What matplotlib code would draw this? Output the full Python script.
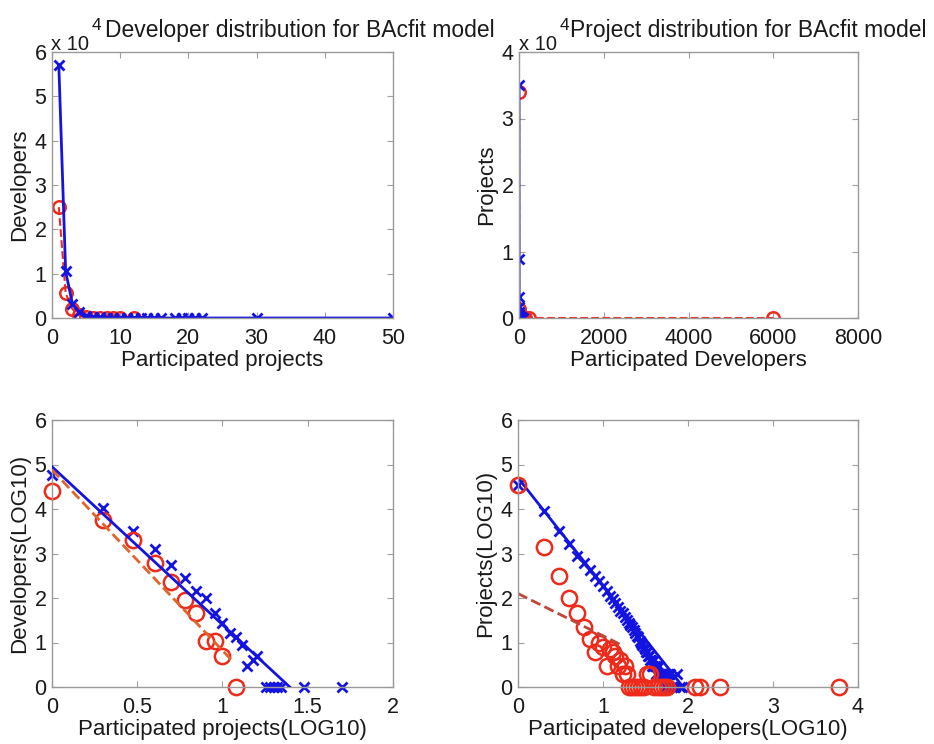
import numpy as np
import matplotlib.pyplot as plt

plt.rcParams['font.family'] = ['Liberation Sans', 'DejaVu Sans']

# developer distribution: participated projects -> number of developers
dev_proj_blue = [1, 2, 3, 4, 5, 6, 7, 8, 9, 10, 11, 12, 13, 14, 15, 16,
                 18, 19, 20, 21, 22, 30, 50]
dev_count_blue = [57000, 10500, 3200, 1250, 560, 280, 140, 100, 45, 28, 16, 13, 9, 3, 4, 5,
                  1, 1, 1, 1, 1, 1, 1]
dev_proj_red = [1, 2, 3, 4, 5, 6, 7, 8, 9, 10, 12]
dev_count_red = [25000, 5600, 2000, 600, 234, 91, 46, 11, 11, 5, 1]

# fitted lines in log space: intercept, slope, x end
dev_fit_blue = [4.95, -3.55, 1.395]
dev_fit_red = [4.88, -4.06, 1.05]

# project distribution: participated developers -> number of projects
proj_dev_blue = [1, 2, 3, 4, 5, 6, 7, 8, 9, 10, 11, 12, 13, 14, 15, 16, 17, 18, 19, 20,
                 21, 22, 23, 24, 25, 26, 27, 28, 29, 30, 31, 32, 33, 34, 35, 36, 37, 38,
                 39, 40, 41, 42, 43, 44, 45, 46, 48, 50, 52, 54, 55, 58, 60, 62, 65, 70,
                 75, 80, 85]
proj_count_blue = [35000, 8900, 3200, 1600, 900, 600, 420, 320, 240, 190, 140, 112, 95,
                   76, 63, 52, 46, 38, 32, 28, 25, 22, 19, 16, 14, 13, 11, 10, 9, 8, 7,
                   6, 6, 5, 5, 4, 4, 3, 3, 4, 3, 2, 3, 2, 2, 3, 2, 2, 2, 1, 2, 2, 1, 2,
                   1, 1, 2, 1, 1]
proj_dev_red = [1, 2, 3, 4, 5, 6, 7, 8, 9, 10, 11, 12, 13, 14, 15, 16, 17, 18, 19, 20,
                22, 24, 26, 28, 30, 33, 36, 40, 44, 48, 52, 56, 120, 140, 240, 6000]
proj_count_red = [34000, 1400, 316, 100, 45, 22, 12, 6, 10, 8, 3, 7, 6, 5, 3, 4, 2, 3, 2,
                  1, 1, 1, 1, 1, 1, 2, 2, 1, 1, 1, 1, 1, 1, 1, 1, 1]

proj_fit_blue = [4.7, -2.42, 1.94]
proj_fit_red = [2.1, -0.95, 1.2]

W, H = 934, 744
fig = plt.figure(figsize=(W / 100, H / 100), dpi=100)
txt = '#1a1a1a'

def box(l, t, r, b):
    return [l / W, 1 - b / H, (r - l) / W, (b - t) / H]

def style(ax):
    ax.tick_params(direction='in', top=True, right=True, length=4, width=0.8,
                   color='#a0a0a0', labelsize=15.5, labelcolor=txt)
    ax.tick_params(axis='x', pad=7)
    ax.tick_params(axis='y', pad=4)
    for s in ax.spines.values():
        s.set_color('#999999')
        s.set_linewidth(1)

blue = '#1414e0'
red = '#ee2a1a'

# top left: linear developer distribution
ax1 = fig.add_axes(box(52, 52, 393, 318))
ax1.plot(dev_proj_red, np.array(dev_count_red) / 1e4, 'o--', color=red, mfc='none',
         ms=9, mew=1.8, lw=1.5)
ax1.plot(dev_proj_blue, np.array(dev_count_blue) / 1e4, 'x-', color=blue,
         ms=7, mew=2, lw=2)
ax1.set_xlim(0, 50)
ax1.set_ylim(0, 6)
ax1.set_xticks(range(0, 51, 10))
ax1.set_yticks(range(0, 7))
ax1.set_xlabel('Participated projects', fontsize=16, color=txt, labelpad=1)
ax1.set_ylabel('Developers', fontsize=16, color=txt, labelpad=3)
style(ax1)

# top right: linear project distribution
ax2 = fig.add_axes(box(519, 52, 858, 318))
ax2.plot(proj_dev_red, np.array(proj_count_red) / 1e4, 'o--', color=red, mfc='none',
         ms=9, mew=1.8, lw=1.5)
ax2.plot(proj_dev_blue, np.array(proj_count_blue) / 1e4, 'x-', color=blue,
         ms=7, mew=2, lw=2)
ax2.set_xlim(0, 8000)
ax2.set_ylim(0, 4)
ax2.set_xticks(range(0, 8001, 2000))
ax2.set_yticks(range(0, 5))
ax2.set_xlabel('Participated Developers', fontsize=16, color=txt, labelpad=1)
ax2.set_ylabel('Projects', fontsize=16, color=txt, labelpad=3)
style(ax2)

# bottom left: log developer distribution
ax3 = fig.add_axes(box(52, 420, 393, 687))
xs = np.array([0, dev_fit_blue[2]])
ax3.plot(xs, dev_fit_blue[0] + dev_fit_blue[1] * xs, '-', color=blue, lw=2, zorder=3)
xs = np.array([0, dev_fit_red[2]])
ax3.plot(xs, dev_fit_red[0] + dev_fit_red[1] * xs, '--', color='#e0652a', lw=2, zorder=3)
ax3.plot(np.log10(dev_proj_blue), np.log10(dev_count_blue), 'x', color=blue, ms=7, mew=2,
         clip_on=False)
ax3.plot(np.log10(dev_proj_red), np.log10(dev_count_red), 'o', color=red, mfc='none',
         ms=11, mew=1.8, clip_on=False)
ax3.set_xlim(0, 2)
ax3.set_ylim(0, 6)
ax3.set_xticks([0, 0.5, 1, 1.5, 2])
ax3.set_xticklabels(['0', '0.5', '1', '1.5', '2'])
ax3.set_yticks(range(0, 7))
ax3.set_xlabel('Participated projects(LOG10)', fontsize=16, color=txt, labelpad=1)
ax3.set_ylabel('Developers(LOG10)', fontsize=16, color=txt, labelpad=3)
style(ax3)

# bottom right: log project distribution
ax4 = fig.add_axes(box(518, 420, 858, 687))
ax4.plot(np.log10(proj_dev_blue), np.log10(proj_count_blue), 'x', color=blue, ms=7, mew=2,
         clip_on=False)
xs = np.array([0, proj_fit_blue[2]])
ax4.plot(xs, proj_fit_blue[0] + proj_fit_blue[1] * xs, '-', color=blue, lw=2)
ax4.plot(np.log10(proj_dev_red), np.log10(proj_count_red), 'o', color=red, mfc='none',
         ms=11, mew=1.8, clip_on=False)
xs = np.array([0, proj_fit_red[2]])
ax4.plot(xs, proj_fit_red[0] + proj_fit_red[1] * xs, '--', color='#c0463c', lw=2)
ax4.set_xlim(0, 4)
ax4.set_ylim(0, 6)
ax4.set_xticks(range(0, 5))
ax4.set_yticks(range(0, 7))
ax4.set_xlabel('Participated developers(LOG10)', fontsize=16, color=txt, labelpad=1)
ax4.set_ylabel('Projects(LOG10)', fontsize=16, color=txt, labelpad=3)
style(ax4)

# titles and exponent labels (placed like the original)
fig.text(300 / W, 1 - 31 / H, 'Developer distribution for BAcfit model', fontsize=16.5,
         color=txt, ha='center', va='center')
fig.text(748 / W, 1 - 31 / H, 'Project distribution for BAcfit model', fontsize=16.5,
         color=txt, ha='center', va='center')
for x0 in (51, 519):
    fig.text(x0 / W, 1 - 44 / H, 'x 10', fontsize=14.5, color=txt, ha='left', va='center')
    fig.text((x0 + 41) / W, 1 - 26 / H, '4', fontsize=12.5, color=txt, ha='left',
             va='center')

fig.savefig('out.png', dpi=100, facecolor='white')
